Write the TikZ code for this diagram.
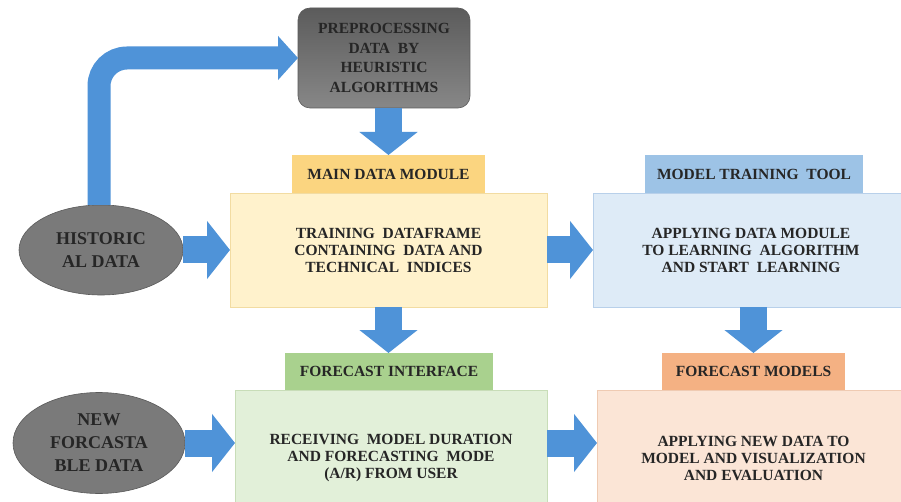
\documentclass[tikz,border=0pt]{standalone}
\usepackage{fontspec}
\setmainfont{Liberation Serif}[BoldFont={Liberation Serif Bold}]
\newfontfamily\lserif{Liberation Serif}[BoldFont={Liberation Serif Bold}]
\usetikzlibrary{arrows.meta,shapes.geometric}
\definecolor{arrowblue}{HTML}{4F93D8}
\definecolor{txt}{HTML}{262626}
\definecolor{ylab}{HTML}{FBD580}
\definecolor{ybox}{HTML}{FFF2CC}
\definecolor{yedge}{HTML}{F2DCA2}
\definecolor{blab}{HTML}{9DC3E6}
\definecolor{bbox}{HTML}{DEEBF7}
\definecolor{bedge}{HTML}{B8D0EA}
\definecolor{glab}{HTML}{A9D18E}
\definecolor{gbox}{HTML}{E2F0D9}
\definecolor{gedge}{HTML}{C8DDB8}
\definecolor{slab}{HTML}{F4B183}
\definecolor{sbox}{HTML}{FBE5D6}
\definecolor{sedge}{HTML}{EFCBB3}
\definecolor{grayfill}{HTML}{7A7A7A}
\definecolor{grayedge}{HTML}{5A5A5A}
\tikzset{
  every node/.style={inner sep=0pt, outer sep=0pt, text=txt, font=\lserif\bfseries\fontsize{15.5}{17}\selectfont, align=center},
  labbox/.style={anchor=north west, minimum height=38pt},
  bigbox/.style={anchor=north west, line width=0.8pt},
  grayell/.style={ellipse, fill=grayfill, draw=grayedge, line width=0.6pt, font=\lserif\bfseries\fontsize{18}{23}\selectfont},
  bigarrow/.style={draw=arrowblue, line width=27pt, -{Triangle[width=57pt,length=23pt]}},
  bentarrow/.style={draw=arrowblue, line width=23pt, rounded corners=28pt, -{Triangle[width=43pt,length=20pt]}}
}
\begin{document}
\begin{tikzpicture}[x=1pt,y=-1pt]
\clip (0,0) rectangle (901,502);
\fill[white] (0,0) rectangle (901,502);
\useasboundingbox (0,0) rectangle (901,502);

% preprocessing box
\node[anchor=north west, minimum width=172pt, minimum height=100pt, rounded corners=12pt,
      top color=grayfill!75!black, bottom color=grayfill!90!white, draw=grayedge, line width=0.6pt,
      font=\lserif\bfseries\fontsize{15.5}{19.5}\selectfont] (pre) at (298,8)
      {PREPROCESSING\\DATA\ \ BY\\HEURISTIC\\ALGORITHMS};

% main data module
\node[labbox, fill=ylab, minimum width=193pt] (mainlab) at (292,155) {MAIN DATA MODULE};
\node[bigbox, fill=ybox, draw=yedge, minimum width=317pt, minimum height=114pt] (main) at (230,193)
  {TRAINING\ \ DATAFRAME\\CONTAINING\ \ DATA AND\\TECHNICAL\ \ INDICES};

% model training tool
\node[labbox, fill=blab, minimum width=218pt] (modlab) at (645,155) {MODEL TRAINING\ \ TOOL};
\node[bigbox, fill=bbox, draw=bedge, minimum width=320pt, minimum height=114pt] (model) at (593,193) {};
\node at ([xshift=-3pt]modlab.south |- model.center) {APPLYING DATA MODULE\\TO LEARNING\ \ ALGORITHM\\AND START\ \ LEARNING};

% forecast interface
\node[labbox, fill=glab, minimum width=208pt, minimum height=37pt] (filab) at (285,353) {FORECAST INTERFACE};
\node[bigbox, fill=gbox, draw=gedge, minimum width=312pt, minimum height=125pt] (fi) at (235,390) {};
\node at ([yshift=-6pt]fi.center) {RECEIVING\ \ MODEL DURATION\\AND FORECASTING\ \ MODE\\(A/R) FROM USER};

% forecast models
\node[labbox, fill=slab, minimum width=183pt, minimum height=37pt] (fmlab) at (662,353) {FORECAST MODELS};
\node[bigbox, fill=sbox, draw=sedge, minimum width=315pt, minimum height=125pt] (fm) at (597,390) {};
\node at ([yshift=-6pt]fmlab.south |- fm.center) {APPLYING NEW DATA TO\\MODEL AND VISUALIZATION\\AND EVALUATION};

% ellipses
\node[grayell, minimum width=164pt, minimum height=90pt] (hist) at (101,250) {HISTORIC\\AL DATA};
\node[grayell, minimum width=172pt, minimum height=101pt] (new) at (99,443) {NEW\\FORCASTA\\BLE DATA};

% arrows
\draw[bentarrow] ([xshift=-2pt]hist.north) |- (pre.west);
\draw[bigarrow] (pre.south -| mainlab.north) -- (mainlab.north);
\draw[bigarrow] (hist.east) -- (main.west);
\draw[bigarrow] (main.east) -- (model.west);
\draw[bigarrow] (main.south) -- (main.south |- filab.north);
\draw[bigarrow] (fmlab.north |- model.south) -- (fmlab.north);
\draw[bigarrow] (new.east) -- (new.east -| fi.west);
\draw[bigarrow] (fi.east |- new.east) -- (fm.west |- new.east);
\end{tikzpicture}
\end{document}
